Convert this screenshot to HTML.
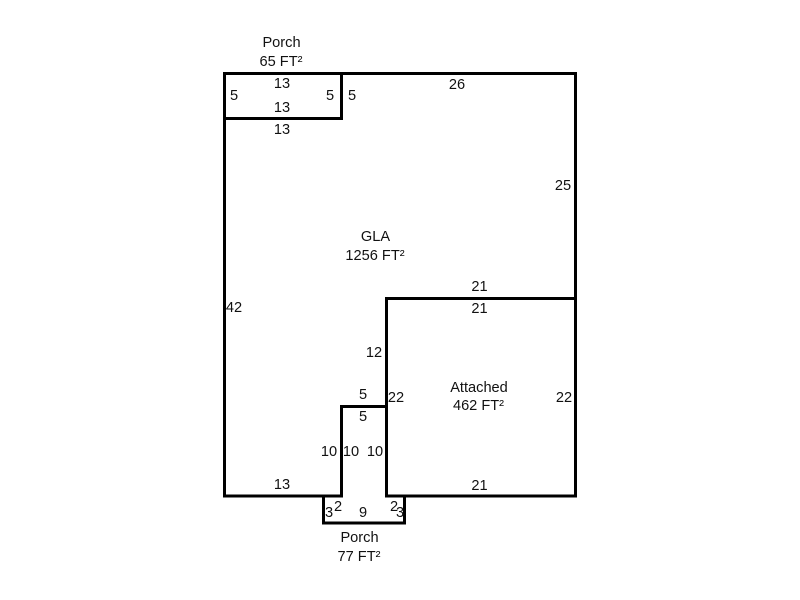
<!DOCTYPE html>
<html><head><meta charset="utf-8"><style>
html,body{margin:0;padding:0;background:#fff;width:800px;height:600px;overflow:hidden}
svg{display:block}
text{font-family:"Liberation Sans",sans-serif;font-size:14.6px;fill:#111;text-anchor:middle}
</style></head><body>
<svg width="800" height="600" viewBox="0 0 800 600" xmlns="http://www.w3.org/2000/svg">
<g fill="none" stroke="#000" stroke-width="3" stroke-linejoin="miter" stroke-linecap="square">
<path d="M224.5 496V73.5H575.5V496H386.5V298.5H575.5"/>
<path d="M386.5 406.5H341.5V496H224.5"/>
<path d="M224.5 118.5H341.5V73.5"/>
<path d="M341.5 496H323.5V523H404.5V496H386.5"/>
</g>
<text x="281.5" y="47">Porch</text><text x="281" y="66">65 FT²</text>
<text x="282" y="88">13</text><text x="282" y="112">13</text><text x="282" y="134">13</text>
<text x="234" y="100">5</text><text x="330" y="100">5</text><text x="352" y="100">5</text>
<text x="457" y="89">26</text><text x="563" y="190">25</text>
<text x="375.500" y="241">GLA</text><text x="375" y="260">1256 FT²</text>
<text x="479.500" y="291">21</text><text x="479.500" y="313">21</text>
<text x="234" y="312">42</text><text x="374" y="357">12</text>
<text x="479" y="392">Attached</text><text x="478.500" y="410">462 FT²</text>
<text x="363" y="399">5</text><text x="363" y="421">5</text>
<text x="396" y="402">22</text><text x="564" y="402">22</text>
<text x="329" y="456">10</text><text x="351" y="456">10</text><text x="375" y="456">10</text>
<text x="282" y="489">13</text><text x="479.500" y="490">21</text>
<text x="329" y="517">3</text><text x="338" y="511">2</text><text x="363" y="517">9</text>
<text x="394" y="511">2</text><text x="400" y="517">3</text>
<text x="359.500" y="542">Porch</text><text x="359" y="561">77 FT²</text>
</svg>
</body></html>
